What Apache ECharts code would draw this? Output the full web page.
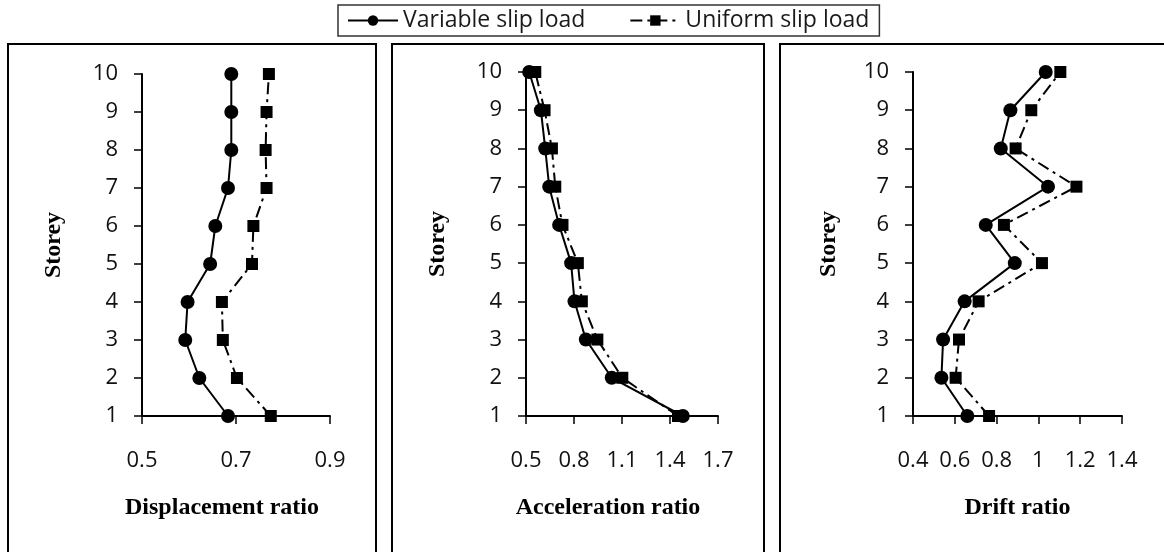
<!DOCTYPE html>
<html>
<head>
<meta charset="utf-8">
<script src="https://cdn.jsdelivr.net/npm/echarts@6/dist/echarts.min.js"></script>
<style>
  html, body { margin: 0; padding: 0; background: #fff; }
  #chart-container { width: 1164px; height: 552px; }
</style>
</head>
<body>
<div id="chart-container"></div>
<script>
// storey 1 .. 10
const storeys = [1, 2, 3, 4, 5, 6, 7, 8, 9, 10];

const dispVariable = [0.683, 0.622, 0.592, 0.597, 0.645, 0.656, 0.683, 0.69, 0.69, 0.69];
const dispUniform = [0.774, 0.702, 0.672, 0.670, 0.734, 0.737, 0.765, 0.763, 0.765, 0.770];

const accVariable = [1.48, 1.036, 0.874, 0.803, 0.782, 0.707, 0.645, 0.62, 0.593, 0.52];
const accUniform = [1.45, 1.102, 0.946, 0.849, 0.824, 0.728, 0.683, 0.662, 0.616, 0.558];

const driftVariable = [0.66, 0.536, 0.544, 0.647, 0.887, 0.748, 1.046, 0.82, 0.866, 1.035];
const driftUniform = [0.764, 0.604, 0.62, 0.714, 1.017, 0.835, 1.182, 0.891, 0.966, 1.105];

const seriesNames = ['Variable slip load', 'Uniform slip load'];
const xNames = ['Displacement ratio', 'Acceleration ratio', 'Drift ratio'];

// axis ranges; offset shifts values so min becomes a multiple of interval
const xRanges = [
  { min: 0.5, max: 0.9, interval: 0.2, offset: 0.5 },
  { min: 0.5, max: 1.7, interval: 0.3, offset: 0.5 },
  { min: 0.4, max: 1.4, interval: 0.2, offset: 0 }
];

var dom = document.getElementById("chart-container");
var myChart = echarts.init(dom, null, { renderer: "canvas" });
var option;

const sans = 'Open Sans';
const serif = 'Liberation Serif';

const grids = [
  { left: 142, top: 74, width: 188, height: 342 },
  { left: 526, top: 72, width: 192, height: 344 },
  { left: 913, top: 72, width: 209, height: 344 }
];
// x-axis title nudged left in the first two panels, like the source
const namePad = [[0, 28, 0, 0], [0, 28, 0, 0], [0, 0, 0, 0]];
const storeyGap = [76, 76, 72];

const toPairs = (xs, off) => xs.map((v, i) => [+(v - off).toFixed(4), storeys[i]]);

const xAxes = xRanges.map((r, i) => ({
  type: 'value',
  gridIndex: i,
  min: r.min - r.offset,
  max: r.max - r.offset,
  interval: r.interval,
  name: xNames[i],
  nameLocation: 'middle',
  nameGap: 80,
  nameTextStyle: { fontFamily: serif, fontWeight: 'bold', fontSize: 24, color: '#000', padding: namePad[i] },
  axisLine: { lineStyle: { color: '#000', width: 2 } },
  axisTick: { show: true, length: 8, lineStyle: { color: '#000', width: 1.5 } },
  axisLabel: {
    margin: 34,
    fontFamily: sans, fontSize: 22, color: '#111',
    formatter: v => String(+(v + r.offset).toFixed(2))
  },
  splitLine: { show: false }
}));

const yAxes = [0, 1, 2].map(i => ({
  type: 'value',
  gridIndex: i,
  min: 1,
  max: 10,
  interval: 1,
  name: 'Storey',
  nameLocation: 'middle',
  nameGap: storeyGap[i],
  nameRotate: 90,
  nameTextStyle: { fontFamily: serif, fontWeight: 'bold', fontSize: 24, color: '#000' },
  axisLine: { show: true, lineStyle: { color: '#000', width: 2 } },
  axisTick: { show: true, length: 8, lineStyle: { color: '#000', width: 1.5 } },
  axisLabel: { margin: 24, fontFamily: sans, fontSize: 22, color: '#111' },
  splitLine: { show: false }
}));

const panels = [
  [dispVariable, dispUniform],
  [accVariable, accUniform],
  [driftVariable, driftUniform]
];

const series = [];
panels.forEach(([variable, uniform], i) => {
  const off = xRanges[i].offset;
  series.push({
    name: seriesNames[1],
    type: 'line',
    xAxisIndex: i, yAxisIndex: i,
    data: toPairs(uniform, off),
    symbol: 'rect', symbolSize: 12,
    itemStyle: { color: '#000' },
    lineStyle: { color: '#000', width: 2, type: [12, 5, 3, 5] },
    z: 2
  });
  series.push({
    name: seriesNames[0],
    type: 'line',
    xAxisIndex: i, yAxisIndex: i,
    data: toPairs(variable, off),
    symbol: 'circle', symbolSize: 14,
    itemStyle: { color: '#000' },
    lineStyle: { color: '#000', width: 2 },
    z: 3
  });
});

// panel frames run off the bottom / right edge like the source
const frames = [
  { x: 8, y: 44, w: 368 },
  { x: 392, y: 44, w: 372 },
  { x: 780, y: 44, w: 420 }
];

option = {
  animation: false,
  backgroundColor: '#fff',
  legend: {
    data: seriesNames,
    left: 338, top: 5,
    padding: [4, 10, 4, 9],
    borderColor: '#333', borderWidth: 1.5,
    itemWidth: 50, itemHeight: 13, itemGap: 44,
    textStyle: { fontFamily: sans, fontSize: 23, color: '#1a1a1a' }
  },
  grid: grids,
  xAxis: xAxes,
  yAxis: yAxes,
  series: series,
  graphic: frames.map(f => ({
    type: 'rect',
    silent: true,
    shape: { x: f.x, y: f.y, width: f.w, height: 560 },
    style: { fill: null, stroke: '#000', lineWidth: 2 }
  }))
};

if (option && typeof option === "object") {
  myChart.setOption(option);
}

window.addEventListener("resize", myChart.resize);
</script>
</body>
</html>
